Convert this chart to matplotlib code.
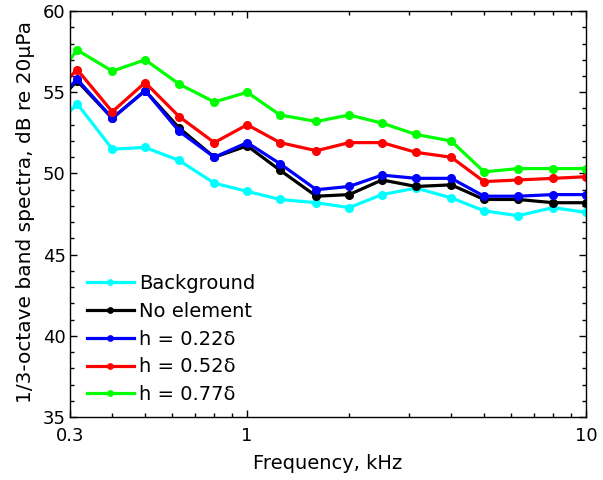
import numpy as np
import matplotlib
matplotlib.use('Agg')
import matplotlib.pyplot as plt
from matplotlib.ticker import FixedLocator, NullFormatter, MultipleLocator

# 1/3-octave centre frequencies, kHz (0.25 lies just left of the axis)
freq = [0.25, 0.315, 0.4, 0.5, 0.63, 0.8, 1.0, 1.25, 1.6, 2.0, 2.5, 3.15,
        4.0, 5.0, 6.3, 8.0, 10.0]

background = [52.1, 54.3, 51.5, 51.6, 50.8, 49.4, 48.9, 48.4, 48.2, 47.9,
              48.7, 49.1, 48.5, 47.7, 47.4, 47.9, 47.6]
no_element = [53.5, 55.7, 53.4, 55.1, 52.8, 51.0, 51.7, 50.2, 48.6, 48.7,
              49.6, 49.2, 49.3, 48.4, 48.4, 48.2, 48.2]
h022 = [53.6, 55.8, 53.4, 55.1, 52.6, 51.0, 51.9, 50.6, 49.0, 49.2,
        49.9, 49.7, 49.7, 48.6, 48.6, 48.7, 48.7]
h052 = [54.2, 56.4, 53.8, 55.6, 53.5, 51.9, 53.0, 51.9, 51.4, 51.9,
        51.9, 51.3, 51.0, 49.5, 49.6, 49.7, 49.8]
h077 = [54.8, 57.6, 56.3, 57.0, 55.5, 54.4, 55.0, 53.6, 53.2, 53.6,
        53.1, 52.4, 52.0, 50.1, 50.3, 50.3, 50.3]

series = [
    (background, 'Background', '#00ffff'),
    (no_element, 'No element', 'black'),
    (h022, 'h = 0.22\u03b4', 'blue'),
    (h052, 'h = 0.52\u03b4', 'red'),
    (h077, 'h = 0.77\u03b4', '#00ff00'),
]

plt.rcParams['font.family'] = ['DejaVu Sans']

fig = plt.figure(figsize=(6.03, 4.8), dpi=100)
ax = fig.add_axes([0.116, 0.131, 0.856, 0.846])

for vals, label, color in series:
    ax.plot(freq, vals, '-o', color=color, lw=2.3, ms=5.5, label=label)

ax.set_xscale('log')
ax.set_xlim(0.3, 10)
ax.set_ylim(35, 60)

ax.xaxis.set_major_locator(FixedLocator([0.3, 1, 10]))
ax.set_xticklabels(['0.3', '1', '10'])
ax.xaxis.set_minor_locator(FixedLocator([0.4, 0.5, 0.6, 0.7, 0.8, 0.9,
                                         2, 3, 4, 5, 6, 7, 8, 9]))
ax.xaxis.set_minor_formatter(NullFormatter())
ax.yaxis.set_major_locator(MultipleLocator(5))
ax.yaxis.set_minor_locator(MultipleLocator(1))

ax.tick_params(which='both', direction='in', top=True, right=True,
               labelsize=13, width=1)
ax.tick_params(which='major', length=5)
ax.tick_params(which='minor', length=3)
ax.tick_params(axis='x', which='major', pad=7)
ax.tick_params(axis='y', which='major', pad=3)
for s in ax.spines.values():
    s.set_linewidth(1)

ax.set_xlabel('Frequency, kHz', fontsize=14)
ax.xaxis.set_label_coords(0.5, -0.09)
ax.set_ylabel('1/3-octave band spectra, dB re 20\u03bcPa', fontsize=14.5)
ax.yaxis.set_label_coords(-0.068, 0.505)

ax.legend(loc='lower left', bbox_to_anchor=(0.033, 0.032), frameon=False,
          fontsize=14, handlelength=2.4, handletextpad=0.3, labelspacing=0.45,
          borderpad=0, borderaxespad=0, markerscale=0.7)

fig.savefig('out.png', dpi=100)
